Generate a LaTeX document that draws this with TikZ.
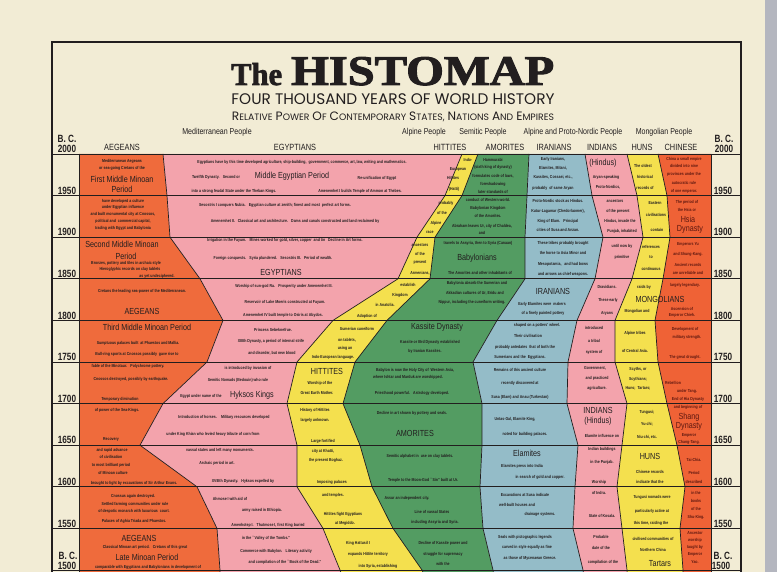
\documentclass[tikz,border=0pt]{standalone}
\usepackage{fontspec}
\setmainfont{Liberation Sans}
\newfontfamily\condfont[FakeStretch=0.82]{Liberation Sans}
\newfontfamily\yearfont[FakeStretch=0.78]{Liberation Sans}
\newfontfamily\titlefont[FakeBold=2.2]{Liberation Serif}
\newfontfamily\geofont{Poppins}
\usepackage{graphicx}
\usetikzlibrary{positioning}

\definecolor{paper}{HTML}{F2ECD5}
\definecolor{scanedge}{HTML}{B4B6BF}
\definecolor{ink}{HTML}{221E1F}
\definecolor{chinaink}{HTML}{5E1810}
\definecolor{aegean}{HTML}{EF6B3C}
\definecolor{egypt}{HTML}{F3A3AC}
\definecolor{hittite}{HTML}{F4E04E}
\definecolor{amorite}{HTML}{539C62}
\definecolor{iranian}{HTML}{94BCC8}
\definecolor{indian}{HTML}{F3A3AC}
\definecolor{hun}{HTML}{F4E04E}
\definecolor{chinese}{HTML}{EF6236}

\newcommand{\capsc}[2]{{\fontsize{11}{12}\selectfont#1}{\fontsize{8.4}{9}\selectfont#2}}

\tikzset{
    note/.style={font=\condfont\bfseries\fontsize{4.3}{5}\selectfont, text=ink, inner sep=0pt},
    bigname/.style={font=\condfont\fontsize{8.8}{9}\selectfont, text=ink, inner sep=0pt},
    colname/.style={font=\condfont\fontsize{9}{9}\selectfont, text=ink, inner sep=0pt},
    people/.style={font=\condfont\fontsize{8.6}{9}\selectfont, text=ink, inner sep=0pt},
    yearlbl/.style={font=\yearfont\bfseries\fontsize{10.5}{11}\selectfont, text=ink, inner sep=0pt},
    border/.style={draw=ink, line width=0.7pt, line join=round},
    rowline/.style={draw=ink, line width=0.8pt},
    frame/.style={draw=ink, line width=1.2pt}
}

\begin{document}
\begin{tikzpicture}[x=1pt, y=-1pt]
\useasboundingbox (0,0) rectangle (777,572);
\begin{scope}
\clip (0,0) rectangle (777,572);

% paper
\fill[paper] (0,0) rectangle (777,572);
\fill[scanedge] (765,0) rectangle (777,572);

% band edges, one value per fifty years
\foreach \i in {0,...,11} {
    \coordinate (A\i) at (79,{154+41.6*\i});
    \coordinate (I\i) at (711,{154+41.6*\i});
}
\foreach \b/\xs in {B/{163,167,170,200,223,207,163,140,197,217,220,222},
                    C/{462,445,417,398,333,297,287,297,297,323,340,355},
                    D/{478,462,435,430,387,355,343,360,372,393,422,440},
                    E/{529,527,525,525,497,473,482,482,480,483,493,500},
                    F/{585,592,603,595,577,568,567,578,575,573,583,590},
                    G/{627,637,643,632,615,615,627,622,617,622,627,630},
                    H/{658,667,670,663,655,658,667,677,685,680,683,685}} {
    \foreach \x [count=\i from 0] in \xs {
        \coordinate (\b\i) at (\x,{154+41.6*\i});
    }
}

% bands
\foreach \l/\r/\c in {A/B/aegean, B/C/egypt, C/D/hittite, D/E/amorite,
                      E/F/iranian, F/G/indian, G/H/hun, H/I/chinese} {
    \fill[fill=\c] (\l0) \foreach \i in {1,...,11}{ -- (\l\i)}
                   \foreach \i in {11,...,0}{ -- (\r\i)} -- cycle;
}
\foreach \b in {B,...,H} {
    \draw[border] (\b0) \foreach \i in {1,...,11}{ -- (\b\i)};
}

% grid and frame
\foreach \i in {0,...,10} {
    \draw[rowline] (52,{154+41.6*\i}) -- (741,{154+41.6*\i});
}
\draw[rowline] (A0) -- (A11);
\draw[rowline] (I0) -- (I11);
\draw[frame] (52,600) |- (741,42) -- (741,600);

% title
\node[anchor=base west, inner sep=0pt, text=ink] (the) at (231,85)
    {\resizebox{51pt}{22pt}{\titlefont\bfseries The}};
\node[anchor=base west, inner sep=0pt, text=ink] (histomap) at (291,85)
    {\resizebox{263pt}{28pt}{\titlefont\bfseries HISTOMAP}};
\node[anchor=base, inner sep=0pt, text=ink] (subtitle) at (393,105)
    {\resizebox{323pt}{!}{\geofont\fontsize{11}{12}\selectfont FOUR THOUSAND YEARS OF WORLD HISTORY}};
\node[anchor=base, inner sep=0pt, text=ink] (subsub) at (393,121)
    {\resizebox{322pt}{!}{\geofont\capsc{R}{ELATIVE} \capsc{P}{OWER} \capsc{O}{F} \capsc{C}{ONTEMPORARY} \capsc{S}{TATES,} \capsc{N}{ATIONS} \capsc{A}{ND} \capsc{E}{MPIRES}}};

% peoples and columns
\foreach \x/\t [count=\i] in {217/{Mediterranean People}, 424/{Alpine People}, 483/{Semitic People},
                              573/{Alpine and Proto-Nordic People}, 664/{Mongolian People}}
    \node[people] (pp\i) at (\x,132) {\t};
\foreach \x/\t [count=\i] in {122/AEGEANS, 295/EGYPTIANS, 450/HITTITES, 505/AMORITES,
                              554/IRANIANS, 602/INDIANS, 642/HUNS, 681/CHINESE}
    \node[colname] (col\i) at (\x,147.5) {\t};

% years
\node[yearlbl] (bcl) at (67,138.5) {B. C.};
\node[yearlbl] (y2000l) at (67,148.5) {2000};
\node[yearlbl] (bcr) at (724,138.5) {B. C.};
\node[yearlbl] (y2000r) at (724,148.5) {2000};
\foreach \yr [count=\i] in {1950,1900,...,1550} {
    \node[yearlbl] (yl\yr) at (67,{154+41.6*\i-5}) {\yr};
    \node[yearlbl] (yr\yr) at (723,{154+41.6*\i-5}) {\yr};
}
\node[yearlbl] (bcl2) at (68,556) {B. C.};
\node[yearlbl] (y1500l) at (67,566) {1500};
\node[yearlbl] (bcr2) at (723,556) {B. C.};
\node[yearlbl] (y1500r) at (721,566) {1500};

% Aegeans
\foreach \x/\y/\t [count=\i] in {122/161/{Mediterranean Aegeans}, 122/168/{or sea-going Cretans of the},
    123/201/{have developed a culture}, 123/207/{under Egyptian influence},
    123/214/{and built monumental city at Cnossos,}, 123/221/{political and \ commercial capital,},
    123/228/{trading with Egypt and Babylonia}, 126/263/{Bronzes, pottery and tiles in archaic style},
    130/269/{Hieroglyphic records on clay tablets}, 157/276/{as yet undeciphered.},
    142/291/{Cretans the leading sea-power of the Mediterranean.},
    138/343/{Sumptuous palaces built \ at Phaestos and Mallia.},
    137/354/{Bull-ring sports at Cnossos possibly \ gave rise to},
    128/366/{fable of the Minotaur. \ \ Polychrome pottery.},
    131/379/{Cnossos destroyed, possibly by earthquake.},
    120/399/{Temporary diminution}, 117/410/{of power of the Sea-Kings.},
    111/439/{Recovery}, 112/450/{and rapid advance}, 111/457/{of civilisation},
    111/465/{to most brilliant period}, 113/473/{of Minoan culture},
    134/483/{brought to light by excavations of Sir Arthur Evans.},
    133/496/{Cnossus again destroyed.}, 135/504/{Settled farming communities under rule},
    134/511/{of despotic monarch with luxurious \ court.}, 134/521/{Palaces of Aghia Triada and Phaestos.},
    145/547/{Classical Minoan art period. \ \ Cretans of this great},
    148/567/{comparable with Egyptians and Babylonians in development of}}
    \node[note] (aeg\i) at (\x,\y) {\t};
\foreach \x/\y/\t [count=\i] in {122/179/{First Middle Minoan}, 122/189/{Period},
    122/244/{Second Middle Minoan}, 126/256/{Period}, 142/311/{AEGEANS},
    147/327/{Third Middle Minoan Period}, 139/538/{AEGEANS}, 147/557/{Late Minoan Period}}
    \node[bigname] (aegbig\i) at (\x,\y) {\t};

% Egyptians
\foreach \x/\y/\t [count=\i] in {
    302/162/{Egyptians have by this time developed agriculture, ship-building, \ government, commerce, art, law, writing and mathematics.},
    216/177/{Twelfth Dynasty. \ \ Second or}, 377/178/{Re-unification of Egypt},
    234/191/{into a strong feudal State under the Theban Kings.},
    360/191/{Amenemhet I builds Temple of Ammon at Thebes.},
    275/205/{Sesostris I conquers Nubia. \ \ Egyptian culture at zenith; finest and most \ perfect art forms.},
    295/221/{Amenemhet II. \ \ Classical art and architecture. \ \ Dams and canals constructed and land reclaimed by},
    285/240/{Irrigation in the Fayum. \ \ Mines worked for gold, silver, copper \ and tin \ \ Decline in Art forms.},
    273/258/{Foreign conquests. \ \ Syria plundered. \ \ Sesostris III. \ \ Period of wealth.},
    284/286/{Worship of sun-god Ra. \ \ Prosperity under Amenemhet III.},
    285/302/{Reservoir of Lake Moeris constructed at Fayum.},
    283/315/{Amenemhet IV built temple to Osiris at Abydos.},
    273/330/{Princess Sebeknefrue.}, 271/341/{XIIIth Dynasty, a period of internal strife},
    272/353/{and disorder, but new blood}, 248/368/{is introduced by invasion of},
    238/380/{Semitic Nomads (Bedouin) who rule}, 201/396/{Egypt under name of the},
    224/417/{Introduction of horses. \ \ \ Military resources developed},
    213/434/{under King Khian who levied heavy tribute of corn from},
    220/450/{vassal states and left many monuments.}, 217/463/{Archaic period in art.},
    243/481/{XVIIIth Dynasty. \ \ Hyksos expelled by}, 230/499/{Ahmose I with aid of},
    262/510/{army raised in Ethiopia.}, 268/525/{Amenhotep I. \ \ Thutmose I, first King buried},
    266/538/{in the ``Valley of the Tombs.''}, 276/551/{Commerce with Babylon. \ \ Literary activity},
    285/562/{and compilation of the ``Book of the Dead.''}}
    \node[note] (egy\i) at (\x,\y) {\t};
\foreach \x/\y/\t [count=\i] in {292/176/{Middle Egyptian Period}, 281/272/{EGYPTIANS}, 252/395/{Hyksos Kings}}
    \node[bigname] (egybig\i) at (\x,\y) {\t};

% Hittites
\foreach \x/\y/\t [count=\i] in {468/160/{Indo-}, 458/169/{European}, 453/178/{Hittites}, 454/189/{(Hatti)},
    446/203/{probably}, 442/213/{of the}, 436/223/{Alpine}, 430/232/{race},
    420/245/{ancestors}, 420/254/{of the}, 420/263/{present}, 420/273/{Armenians,},
    408/285/{establish}, 400/295/{Kingdom}, 385/305/{in Anatolia.}, 367/316/{Adoption of},
    357/329/{Sumerian cuneiform}, 347/340/{on tablets,}, 345/348/{using an}, 333/357/{Indo-European language.},
    320/383/{Worship of the}, 317/393/{Great Earth Mother.},
    315/410/{History of Hittites}, 315/420/{largely unknown.},
    323/441/{Large fortified}, 323/451/{city at Khatti,}, 326/460/{the present Boghaz.}, 332/482/{Imposing palaces},
    333/495/{and temples.}, 343/514/{Hittites fight Egyptians}, 345/523/{at Megiddo.},
    358/543/{King Hattusil I}, 368/554/{expands Hittite territory}, 378/566/{into Syria, establishing}}
    \node[note] (hit\i) at (\x,\y) {\t};
\node[bigname] (hitbig) at (327,371) {HITTITES};

% Amorites
\foreach \x/\y/\t [count=\i] in {493/160/{Hammurabi}, 493/167/{(sixth king of dynasty)},
    493/176/{formulates code of laws,}, 493/184/{foreshadowing}, 493/192/{later standards of},
    488/200/{conduct of Western world.}, 488/208/{Babylonian Kingdom}, 488/216/{of the Amorites.},
    482/226/{Abraham leaves Ur, city of Chaldea,}, 482/233/{and},
    478/243/{travels to Assyria, then to Syria (Canaan)}, 480/273/{The Amorites and other inhabitants of},
    477/283/{Babylonia absorb the Sumerian and}, 475/293/{Akkadian cultures of Ur, Eridu and},
    472/302/{Nippur, including the cuneiform writing.},
    430/342/{Kassite or IIIrd Dynasty established}, 425/351/{by Iranian Kassites.},
    415/370/{Babylon is now the Holy City of \ Western Asia,}, 408/377/{where Ishtar and Marduk are worshipped.},
    412/393/{Priesthood powerful. \ \ Astrology developed.},
    412/413/{Decline in art shown by pottery and seals.},
    420/456/{Semitic alphabet in \ use on clay tablets.}, 423/480/{Temple to the Moon-God ``Sin'' built at Ur.},
    407/498/{Assur an independent city.}, 432/512/{Line of vassal States}, 435/522/{including Assyria and Syria.},
    443/543/{Decline of Kassite power and}, 443/554/{struggle for supremacy}, 443/564/{with the}}
    \node[note] (amo\i) at (\x,\y) {\t};
\foreach \x/\y/\t [count=\i] in {477/258/{Babylonians}, 437/327/{Kassite Dynasty}, 415/433/{AMORITES}}
    \node[bigname] (amobig\i) at (\x,\y) {\t};

% Iranians
\foreach \x/\y/\t [count=\i] in {553/159/{Early Iranians,}, 553/168/{Elamites, Mitani,},
    553/177/{Kassites, Cossaei, etc.,}, 553/188/{probably \ of same Aryan},
    558/201/{Proto-Nordic stock as Hindus.}, 558/211/{Kutur-Lagamar (Chedorlaomer),},
    558/221/{King of Elam. \ \ Principal}, 558/230/{cities of Susa and Anzan.},
    563/243/{These tribes probably brought}, 563/253/{the horse to Asia Minor and},
    563/264/{Mesopotamia, \ \ and had bows}, 563/274/{and arrows as chief weapons.},
    542/304/{Early Elamites were \ makers}, 543/313/{of a finely painted pottery},
    537/325/{shaped on a potters' wheel.}, 528/336/{Their civilisation},
    525/347/{probably antedates \ that of both the}, 520/357/{Sumerians and the \ Egyptians.},
    520/370/{Remains of this ancient culture}, 520/383/{recently discovered at},
    520/397/{Susa (Elam) and Anau (Turkestan)}, 515/419/{Untas-Gal, Elamite King,},
    525/434/{noted for building palaces.}, 522/466/{Elamites press into India},
    540/477/{in search of gold and copper.}, 525/495/{Excavations at Susa indicate},
    517/505/{well-built houses and}, 540/514/{drainage systems.},
    525/537/{Seals with pictographic legends}, 527/547/{carved in style equally as fine},
    530/558/{as those of Mycenaean Greece.}}
    \node[note] (ira\i) at (\x,\y) {\t};
\foreach \x/\y/\t [count=\i] in {553/291/{IRANIANS}, 527/453/{Elamites}}
    \node[bigname] (irabig\i) at (\x,\y) {\t};

% Indians
\foreach \x/\y/\t [count=\i] in {606/177/{Aryan-speaking}, 608/187/{Proto-Nordics,},
    615/201/{ancestors}, 618/211/{of the present}, 620/221/{Hindus, invade the}, 622/231/{Punjab, inhabited},
    622/246/{until now by}, 622/257/{primitive},
    607/287/{Dravidians.}, 608/300/{These early}, 607/313/{Aryans},
    594/328/{introduced}, 594/341/{a tribal}, 594/352/{system of},
    595/368/{Government,}, 597/378/{and practiced}, 597/388/{agriculture.},
    602/436/{Elamite influence on}, 602/449/{Indian buildings}, 602/462/{in the Punjab.}, 599/482/{Worship},
    599/493/{of Indra.}, 602/516/{State of Kosala.},
    601/537/{Probable}, 601/548/{date of the}, 603/562/{compilation of the}}
    \node[note] (ind\i) at (\x,\y) {\t};
\foreach \x/\y/\t [count=\i] in {603/163/{(Hindus)}, 598/410/{INDIANS}, 598/421/{(Hindus)}}
    \node[bigname] (indbig\i) at (\x,\y) {\t};

% Huns
\foreach \x/\y/\t [count=\i] in {643/166/{The oldest}, 645/177/{historical}, 645/188/{records of},
    655/203/{Eastern}, 656/215/{civilisations}, 657/230/{contain},
    651/247/{references}, 651/257/{to}, 651/269/{continuous},
    644/287/{raids by}, 637/311/{Mongolian and},
    635/333/{Alpine tribes}, 635/351/{of Central Asia.},
    638/369/{Scyths, or}, 638/379/{Scythians;}, 638/388/{Huns; \ Tartars;},
    647/412/{Tungusi;}, 647/424/{Yu-chi;}, 647/437/{Niu-chi, etc.},
    650/472/{Chinese records}, 650/482/{indicate that the},
    652/497/{Tungusi nomads were}, 652/511/{particularly active at}, 651/523/{this time, raiding the},
    653/539/{civilised communities of}, 653/550/{Northern China}}
    \node[note] (hun\i) at (\x,\y) {\t};
\foreach \x/\y/\t [count=\i] in {660/299/{MONGOLIANS}, 650/456/{HUNS}, 660/564/{Tartars}}
    \node[bigname] (hunbig\i) at (\x,\y) {\t};

% Chinese
\foreach \x/\y/\t [count=\i] in {684/159/{China a small empire}, 684/166/{divided into nine},
    684/174/{provinces under the}, 684/183/{autocratic rule}, 684/191/{of one emperor.},
    687/202/{The period of}, 687/210/{the Hsia or},
    688/244/{Emperors Yu}, 688/254/{and Shung-Kang.}, 688/265/{Ancient records}, 688/273/{are unreliable and},
    685/285/{largely legendary.}, 682/309/{Ascension of}, 682/315/{Emperor Chieh.},
    685/329/{Development of}, 687/337/{military strength.}, 685/357/{The great drought.},
    673/383/{Rebellion}, 687/391/{under Tang.}, 688/399/{End of Hia Dynasty},
    688/407/{and beginning of}, 689/435/{Emperor}, 689/442/{Chang-Tang.},
    694/460/{Tai-Chia.}, 694/473/{Period}, 694/482/{described},
    696/493/{in the}, 696/501/{books}, 696/509/{of the}, 696/517/{Shu-King.},
    695/533/{Ancestor}, 695/540/{worship}, 695/547/{taught by}, 695/554/{Emperor}, 695/562/{Yao.}}
    \node[note, text=chinaink] (chi\i) at (\x,\y) {\t};
\foreach \x/\y/\t [count=\i] in {688/219/{Hsia}, 690/229/{Dynasty}, 689/417/{Shang}, 689/426/{Dynasty}}
    \node[bigname, text=chinaink] (chibig\i) at (\x,\y) {\t};

\end{scope}
\end{tikzpicture}
\end{document}
